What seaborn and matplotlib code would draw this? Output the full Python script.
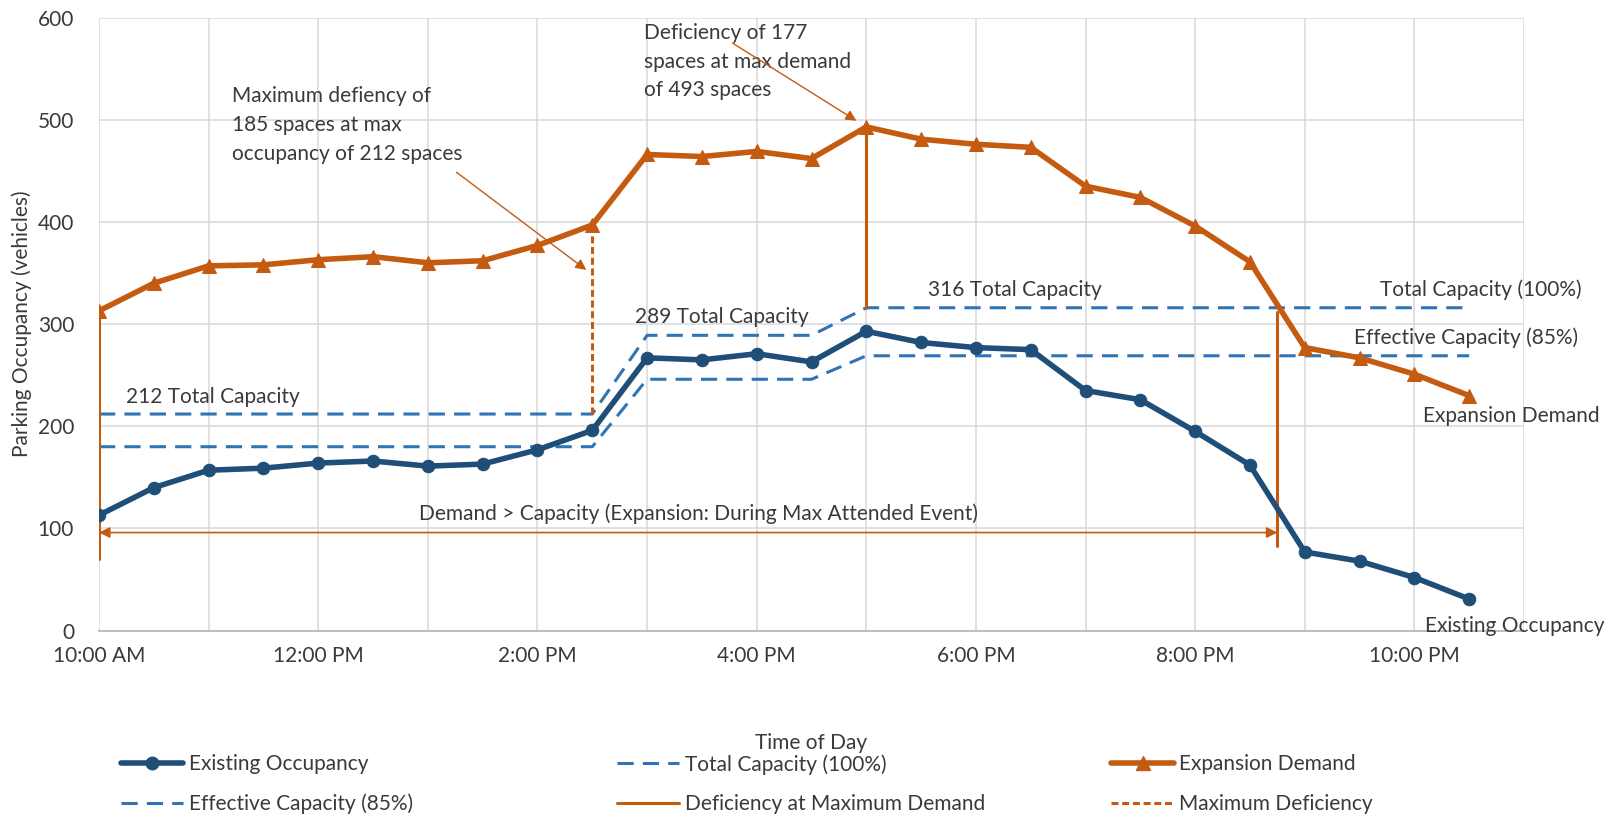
import pandas as pd
import matplotlib.pyplot as plt
import seaborn as sns
from matplotlib.lines import Line2D

# Data (half-hourly, 10:00 AM to 10:30 PM)
times = ['10:00', '10:30', '11:00', '11:30', '12:00', '12:30', '13:00', '13:30',
         '14:00', '14:30', '15:00', '15:30', '16:00', '16:30', '17:00', '17:30',
         '18:00', '18:30', '19:00', '19:30', '20:00', '20:30', '21:00', '21:30',
         '22:00', '22:30']
existing = [113, 140, 157, 159, 164, 166, 161, 163, 177, 196, 267, 265, 271, 263,
            293, 282, 277, 275, 235, 226, 195, 162, 77, 68, 52, 31]
expansion = [313, 340, 357, 358, 363, 366, 360, 362, 377, 397, 466, 464, 469, 462,
             493, 481, 476, 473, 435, 424, 396, 361, 277, 267, 251, 230]
total_cap = [212, 212, 212, 212, 212, 212, 212, 212, 212, 212, 289, 289, 289, 289,
             316, 316, 316, 316, 316, 316, 316, 316, 316, 316, 316, 316]
effective_cap = [180, 180, 180, 180, 180, 180, 180, 180, 180, 180, 246, 246, 246, 246,
                 269, 269, 269, 269, 269, 269, 269, 269, 269, 269, 269, 269]

# deficiency markers (hour of day, bottom, top)
def_x = [10.0, 17.0, 20.75]
def_bottom = [70, 316, 83]
def_top = [313, 493, 312]
maxdef_x = 14.5
maxdef_bottom = 212
maxdef_top = 397
span_y = 96

tick_hours = [10, 11, 12, 13, 14, 15, 16, 17, 18, 19, 20, 21, 22, 23]
tick_labels = ['10:00 AM', '', '12:00 PM', '', '2:00 PM', '', '4:00 PM', '',
               '6:00 PM', '', '8:00 PM', '', '10:00 PM', '']

t = pd.to_datetime(times, format='%H:%M')
df = pd.DataFrame({
    'hour': t.hour + t.minute / 60,
    'Existing Occupancy': existing,
    'Expansion Demand': expansion,
    'Total Capacity (100%)': total_cap,
    'Effective Capacity (85%)': effective_cap,
})

sns.set_style('white')
plt.rcParams['font.family'] = ['Lato', 'DejaVu Sans']
plt.rcParams['font.size'] = 15

BLUE = '#1f4e79'
LBLUE = '#2e75b6'
ORANGE = '#c55a11'
TXT = '#3a3a3a'

fig = plt.figure(figsize=(16.13, 8.17), dpi=100)
ax = fig.add_axes([0.0614, 0.2281, 0.8834, 0.7504])

dash_style = (5.3, 3)
sns.lineplot(data=df, x='hour', y='Total Capacity (100%)', ax=ax, color=LBLUE,
             linewidth=2.2, zorder=3).lines[-1].set_dashes(dash_style)
sns.lineplot(data=df, x='hour', y='Effective Capacity (85%)', ax=ax, color=LBLUE,
             linewidth=2.2, zorder=3).lines[-1].set_dashes(dash_style)
sns.lineplot(data=df, x='hour', y='Existing Occupancy', ax=ax, color=BLUE,
             linewidth=4, marker='o', markersize=9, markeredgecolor=BLUE, zorder=5)
sns.lineplot(data=df, x='hour', y='Expansion Demand', ax=ax, color=ORANGE,
             linewidth=4, marker='^', markersize=10, markeredgecolor=ORANGE, zorder=5)

# deficiency lines
for x, b, tp in zip(def_x, def_bottom, def_top):
    ax.plot([x, x], [b, tp], color=ORANGE, lw=2.2, zorder=4)
ax.plot([maxdef_x, maxdef_x], [maxdef_bottom, maxdef_top], color=ORANGE, lw=2.2,
        dashes=(2.3, 1.2), zorder=4)

# double headed span arrow
ax.annotate('', xy=(10.0, span_y), xytext=(def_x[-1], span_y),
            arrowprops=dict(arrowstyle='<|-|>', color=ORANGE, lw=1.2,
                            mutation_scale=16, shrinkA=0, shrinkB=0))

# callouts
arrow_kw = dict(arrowstyle='-|>', color=ORANGE, lw=1, mutation_scale=16,
                shrinkA=0, shrinkB=0)
ax.text(11.21, 494.7, 'Maximum defiency of\n185 spaces at max\noccupancy of 212 spaces',
        color=TXT, ha='left', va='center', linespacing=1.55)
ax.annotate('', xy=(14.445, 353), xytext=(13.26, 448.7), arrowprops=arrow_kw)
ax.text(14.975, 557, 'Deficiency of 177\nspaces at max demand\nof 493 spaces',
        color=TXT, ha='left', va='center', linespacing=1.55)
ax.annotate('', xy=(16.91, 499), xytext=(15.78, 575), arrowprops=arrow_kw)

ax.text(10.244, 229, '212 Total Capacity', color=TXT, va='center')
ax.text(14.89, 307, '289 Total Capacity', color=TXT, va='center')
ax.text(17.565, 333, '316 Total Capacity', color=TXT, va='center')
ax.text(21.69, 334, 'Total Capacity (100%)', color=TXT, va='center')
ax.text(21.45, 287, 'Effective Capacity (85%)', color=TXT, va='center')
ax.text(22.08, 210, 'Expansion Demand', color=TXT, va='center')
ax.text(22.1, 5, 'Existing Occupancy', color=TXT, va='center')
ax.text(15.47, 114, 'Demand > Capacity (Expansion: During Max Attended Event)',
        color=TXT, ha='center', va='center')

ax.set_xlim(10, 23)
ax.set_ylim(0, 600)
ax.set_xticks(tick_hours)
ax.set_xticklabels(tick_labels)
ax.set_yticks([0, 100, 200, 300, 400, 500, 600])
ax.tick_params(axis='both', length=0, colors=TXT, labelsize=15)
ax.tick_params(axis='x', pad=11)
ax.tick_params(axis='y', pad=18)
ax.grid(True, color='#d9d9d9', linewidth=1.1)
for s in ['top', 'right', 'left']:
    ax.spines[s].set_visible(False)
ax.spines['bottom'].set_color('#bfbfbf')
ax.spines['bottom'].set_linewidth(1.5)
ax.set_xlabel('Time of Day', color=TXT, labelpad=48)
ax.set_ylabel('Parking Occupancy (vehicles)', color=TXT, labelpad=4)

# legend: three columns placed like the original
h_exist = Line2D([], [], color=BLUE, lw=4, marker='o', ms=9)
h_total = Line2D([], [], color=LBLUE, lw=2.2, dashes=dash_style)
h_expan = Line2D([], [], color=ORANGE, lw=4, marker='^', ms=10)
h_eff = Line2D([], [], color=LBLUE, lw=2.2, dashes=dash_style)
h_def = Line2D([], [], color=ORANGE, lw=2.2)
h_maxdef = Line2D([], [], color=ORANGE, lw=2.2, dashes=(2.3, 1.2))
cols = [([h_exist, h_eff], ['Existing Occupancy', 'Effective Capacity (85%)'], 0.075),
        ([h_total, h_def], ['Total Capacity (100%)', 'Deficiency at Maximum Demand'], 0.3825),
        ([h_expan, h_maxdef], ['Expansion Demand', 'Maximum Deficiency'], 0.689)]
for hs, ls, x0 in cols:
    fig.legend(hs, ls, loc='upper left', bbox_to_anchor=(x0, 0.077),
               frameon=False, borderpad=0, borderaxespad=0, fontsize=15,
               handlelength=3.0, handletextpad=0.25, labelspacing=0.95,
               labelcolor=TXT)

fig.savefig('out.png', dpi=100)
